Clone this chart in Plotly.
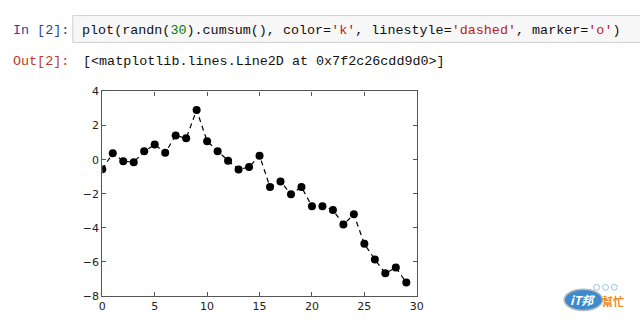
import plotly.graph_objects as go

# ---- data ----
x_vals = list(range(30))
y_vals = [-0.57, 0.38, -0.09, -0.15, 0.49, 0.89, 0.40, 1.42, 1.25, 2.91,
          1.08, 0.49, -0.06, -0.58, -0.43, 0.23, -1.60, -1.28, -2.03, -1.60,
          -2.74, -2.74, -2.95, -3.81, -3.21, -4.94, -5.86, -6.67, -6.33, -7.21]
x_ticks = [0, 5, 10, 15, 20, 25, 30]
y_ticks = [-8, -6, -4, -2, 0, 2, 4]

W, H = 640, 327
def px(x):
    return x / W
def py(y):
    return 1 - y / H

fig = go.Figure()
fig.add_trace(go.Scatter(
    x=x_vals, y=y_vals, mode="lines+markers",
    line=dict(color="black", width=1.2, dash="5px,4px"),
    marker=dict(color="black", size=8, symbol="circle"),
    showlegend=False, hoverinfo="skip"))

axis_common = dict(
    showgrid=False, zeroline=False, showline=True, linecolor="#555", linewidth=1.3,
    mirror="ticks", ticks="inside", ticklen=4, tickcolor="#555", tickwidth=1,
    tickfont=dict(family="DejaVu Sans", size=11, color="#222"),
)
fig.update_xaxes(range=[0, 30], tickvals=x_ticks, domain=[px(100), px(420)], **axis_common)
fig.update_yaxes(range=[-8, 4], tickvals=y_ticks, domain=[py(302), py(89)], **axis_common)

mono = "Liberation Mono, DejaVu Sans Mono, monospace"
red = "#BA2121"
green = "#008000"
code = ("plot(randn(<span style='color:%s'>30</span>).cumsum(), color=<span style='color:%s'>'k'</span>, "
        "linestyle=<span style='color:%s'>'dashed'</span>, marker=<span style='color:%s'>'o'</span>)") % (green, red, red, red)

shapes = [
    dict(type="rect", xref="paper", yref="paper", x0=px(70), x1=px(660), y0=py(38), y1=py(10),
         fillcolor="#f7f7f7", line=dict(color="#cfcfcf", width=1), layer="below"),
    # logo
    dict(type="circle", xref="paper", yref="paper", x0=px(570), x1=px(609), y0=py(317), y1=py(295),
         fillcolor="#3d8bcd", line=dict(color="#b8b8b8", width=1.5)),
]
for cx in [603, 612, 621]:
    shapes.append(dict(type="circle", xref="paper", yref="paper", x0=px(cx - 3), x1=px(cx + 3),
                       y0=py(296), y1=py(290), fillcolor="white", line=dict(color="#8fc3ea", width=1)))

annotations = [
    dict(text="In [2]:", x=px(7), y=py(25), xanchor="left", yanchor="middle",
         font=dict(family=mono, size=13.4, color="#303F9F")),
    dict(text=code, x=px(77), y=py(25), xanchor="left", yanchor="middle",
         font=dict(family=mono, size=13.4, color="#111")),
    dict(text="Out[2]:", x=px(7), y=py(58), xanchor="left", yanchor="middle",
         font=dict(family=mono, size=13.4, color="#C0392B")),
    dict(text="[&lt;matplotlib.lines.Line2D at 0x7f2c26cdd9d0&gt;]", x=px(78), y=py(58),
         xanchor="left", yanchor="middle", font=dict(family=mono, size=13.4, color="#111")),
    dict(text="<b><i>iT邦</i></b>", x=px(589), y=py(306), xanchor="center", yanchor="middle",
         font=dict(family="Noto Sans CJK TC", size=12, color="white")),
    dict(text="<b>幫忙</b>", x=px(620), y=py(307), xanchor="center", yanchor="middle",
         font=dict(family="Noto Sans CJK TC", size=11, color="#ee8a2a")),
]
for a in annotations:
    a.update(xref="paper", yref="paper", showarrow=False)

fig.update_layout(
    width=W, height=H, margin=dict(l=0, r=0, t=0, b=0),
    paper_bgcolor="white", plot_bgcolor="white",
    shapes=shapes, annotations=annotations,
)
fig.write_html("out.html")
